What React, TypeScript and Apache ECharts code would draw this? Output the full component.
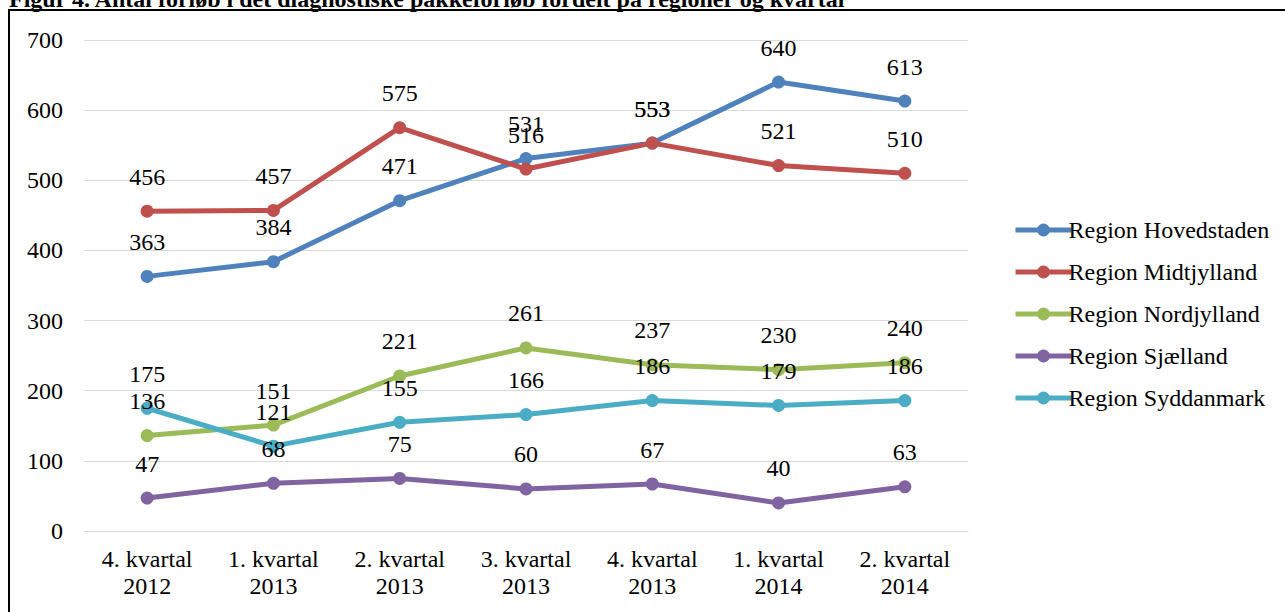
import React, { useEffect, useRef } from "react";
import * as echarts from "echarts";

const categories = ["4. kvartal\n2012", "1. kvartal\n2013", "2. kvartal\n2013", "3. kvartal\n2013", "4. kvartal\n2013", "1. kvartal\n2014", "2. kvartal\n2014"];
const seriesNames = ["Region Hovedstaden", "Region Midtjylland", "Region Nordjylland", "Region Sjælland", "Region Syddanmark"];
const hovedstaden = [363, 384, 471, 531, 553, 640, 613];
const midtjylland = [456, 457, 575, 516, 553, 521, 510];
const nordjylland = [136, 151, 221, 261, 237, 230, 240];
const sjaelland = [47, 68, 75, 60, 67, 40, 63];
const syddanmark = [175, 121, 155, 166, 186, 179, 186];
const colors = ["#4F81BD", "#C0504D", "#9BBB59", "#8064A2", "#4BACC6"];

const FONT = "'Liberation Serif', 'Times New Roman', serif";

export default function App() {
  const ref = useRef<HTMLDivElement>(null);
  useEffect(() => {
    document.body.style.margin = "0";
    const chart = echarts.init(ref.current!, undefined, { renderer: "svg" });
    const data = [hovedstaden, midtjylland, nordjylland, sjaelland, syddanmark];
    chart.setOption({
      animation: false,
      backgroundColor: "#ffffff",
      textStyle: { fontFamily: FONT, color: "#000" },
      graphic: [
        {
          type: "rect",
          shape: { x: 9, y: 10, width: 1400, height: 800 },
          style: { fill: "none", stroke: "#000", lineWidth: 2 },
          silent: true,
        },
        {
          type: "text",
          x: 9,
          y: -1,
          style: {
            text: "Figur 4. Antal forløb i det diagnostiske pakkeforløb fordelt på regioner og kvartal",
            font: `bold 24px ${FONT}`,
            fill: "#000",
            verticalAlign: "middle",
          },
        },
      ],
      grid: { left: 84, right: 1285 - 968, top: 40, bottom: 612 - 531, containLabel: false },
      legend: {
        orient: "vertical",
        left: 1008,
        top: 213,
        itemGap: 18,
        itemWidth: 56,
        itemHeight: 16,
        lineStyle: { width: 5 },
        textStyle: { fontFamily: FONT, fontSize: 24, color: "#000", padding: [0, 0, 0, -8] },
        data: seriesNames,
      },
      xAxis: {
        type: "category",
        data: categories,
        boundaryGap: true,
        axisLine: { show: true, lineStyle: { color: "#D9D9D9", width: 1 } },
        axisTick: { show: false },
        axisLabel: { fontFamily: FONT, fontSize: 24, color: "#000", lineHeight: 27, margin: 14, interval: 0 },
      },
      yAxis: {
        type: "value",
        min: 0,
        max: 700,
        interval: 100,
        axisLine: { show: false },
        axisTick: { show: false },
        splitLine: { lineStyle: { color: "#D9D9D9", width: 1 } },
        axisLabel: { fontFamily: FONT, fontSize: 24, color: "#000", margin: 21 },
      },
      series: seriesNames.map((name, i) => ({
        name,
        type: "line",
        data: data[i],
        color: colors[i],
        symbol: "circle",
        symbolSize: 13,
        lineStyle: { width: 5, color: colors[i] },
        itemStyle: { color: colors[i] },
        label: { show: true, position: "top", distance: 16, fontFamily: FONT, fontSize: 24, color: "#000" },
      })),
    });
    return () => chart.dispose();
  }, []);
  return <div ref={ref} style={{ width: 1285, height: 612 }} />;
}
